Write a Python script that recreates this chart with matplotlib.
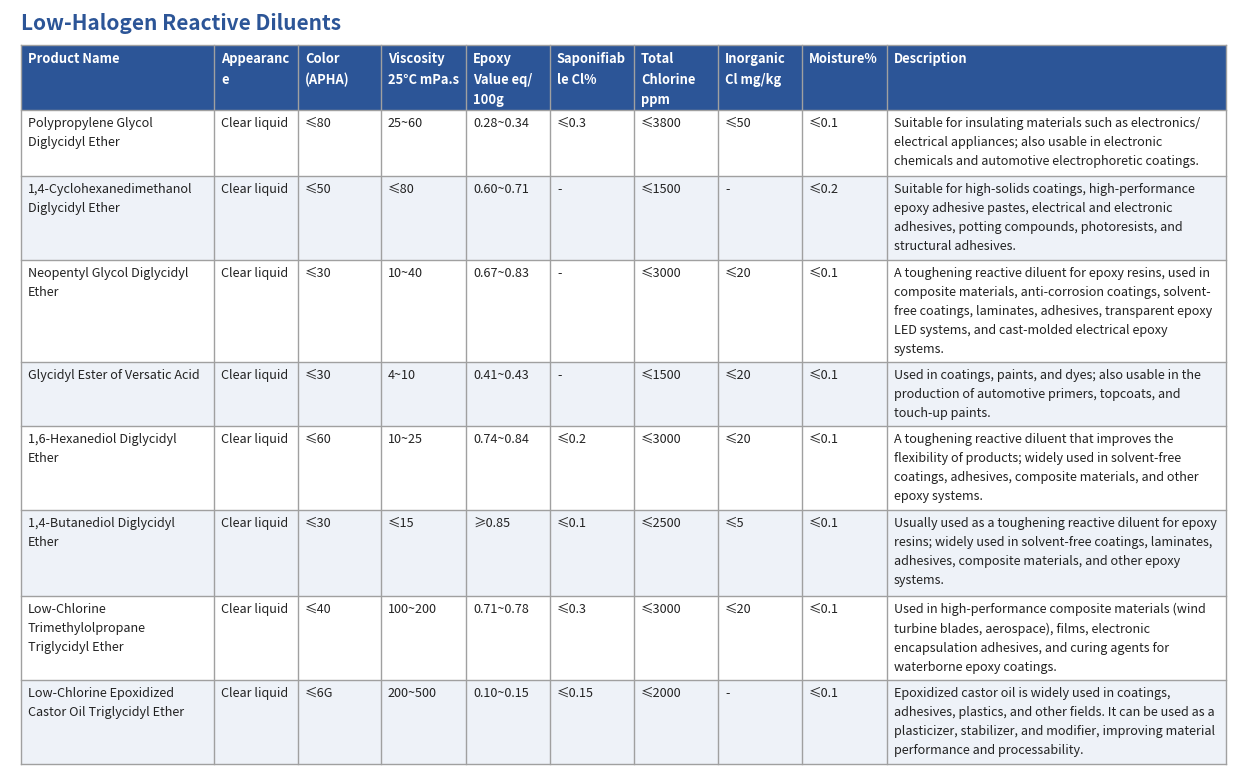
import matplotlib.pyplot as plt
from matplotlib.patches import Rectangle

plt.rcParams['font.family'] = ['Noto Sans CJK SC', 'DejaVu Sans']

title = 'Low-Halogen Reactive Diluents'
headers = ['Product Name', 'Appearanc\ne', 'Color\n(APHA)', 'Viscosity\n25°C mPa.s',
           'Epoxy\nValue eq/\n100g', 'Saponifiab\nle Cl%', 'Total\nChlorine\nppm',
           'Inorganic\nCl mg/kg', 'Moisture%', 'Description']
names = ['Polypropylene Glycol\nDiglycidyl Ether',
         '1,4-Cyclohexanedimethanol\nDiglycidyl Ether',
         'Neopentyl Glycol Diglycidyl\nEther',
         'Glycidyl Ester of Versatic Acid',
         '1,6-Hexanediol Diglycidyl\nEther',
         '1,4-Butanediol Diglycidyl\nEther',
         'Low-Chlorine\nTrimethylolpropane\nTriglycidyl Ether',
         'Low-Chlorine Epoxidized\nCastor Oil Triglycidyl Ether']
appearance = ['Clear liquid'] * 8
color_apha = ['≤80', '≤50', '≤30', '≤30', '≤60', '≤30', '≤40', '≤6G']
viscosity = ['25~60', '≤80', '10~40', '4~10', '10~25', '≤15', '100~200', '200~500']
epoxy = ['0.28~0.34', '0.60~0.71', '0.67~0.83', '0.41~0.43', '0.74~0.84', '≥0.85', '0.71~0.78', '0.10~0.15']
sapon = ['≤0.3', '-', '-', '-', '≤0.2', '≤0.1', '≤0.3', '≤0.15']
total_cl = ['≤3800', '≤1500', '≤3000', '≤1500', '≤3000', '≤2500', '≤3000', '≤2000']
inorg_cl = ['≤50', '-', '≤20', '≤20', '≤20', '≤5', '≤20', '-']
moisture = ['≤0.1', '≤0.2', '≤0.1', '≤0.1', '≤0.1', '≤0.1', '≤0.1', '≤0.1']
descriptions = [
    'Suitable for insulating materials such as electronics/\nelectrical appliances; also usable in electronic\nchemicals and automotive electrophoretic coatings.',
    'Suitable for high-solids coatings, high-performance\nepoxy adhesive pastes, electrical and electronic\nadhesives, potting compounds, photoresists, and\nstructural adhesives.',
    'A toughening reactive diluent for epoxy resins, used in\ncomposite materials, anti-corrosion coatings, solvent-\nfree coatings, laminates, adhesives, transparent epoxy\nLED systems, and cast-molded electrical epoxy\nsystems.',
    'Used in coatings, paints, and dyes; also usable in the\nproduction of automotive primers, topcoats, and\ntouch-up paints.',
    'A toughening reactive diluent that improves the\nflexibility of products; widely used in solvent-free\ncoatings, adhesives, composite materials, and other\nepoxy systems.',
    'Usually used as a toughening reactive diluent for epoxy\nresins; widely used in solvent-free coatings, laminates,\nadhesives, composite materials, and other epoxy\nsystems.',
    'Used in high-performance composite materials (wind\nturbine blades, aerospace), films, electronic\nencapsulation adhesives, and curing agents for\nwaterborne epoxy coatings.',
    'Epoxidized castor oil is widely used in coatings,\nadhesives, plastics, and other fields. It can be used as a\nplasticizer, stabilizer, and modifier, improving material\nperformance and processability.',
]
columns = [names, appearance, color_apha, viscosity, epoxy, sapon, total_cl,
           inorg_cl, moisture, descriptions]

# table geometry in pixels
col_x = [21, 214, 298, 381, 466, 550, 634, 718, 802, 887, 1226]
row_y = [45, 110, 176, 260, 362, 426, 510, 596, 680, 764]
blue = '#2c5597'
stripe = '#eef2f8'
grid = '#a0a0a0'

fig = plt.figure(figsize=(12.41, 7.81), dpi=100)
ax = fig.add_axes([0, 0, 1, 1])
ax.set_xlim(0, 1241)
ax.set_ylim(781, 0)
ax.axis('off')

ax.text(21, 24, title, fontsize=15, fontweight='bold', color=blue, va='center', ha='left')

ax.add_patch(Rectangle((col_x[0], row_y[0]), col_x[-1] - col_x[0], row_y[1] - row_y[0],
                       color=blue, lw=0))
for i in range(len(names)):
    if i % 2 == 1:
        ax.add_patch(Rectangle((col_x[0], row_y[i + 1]), col_x[-1] - col_x[0],
                               row_y[i + 2] - row_y[i + 1], color=stripe, lw=0))

for j, h in enumerate(headers):
    ax.text(col_x[j] + 7, row_y[0] + 7, h, fontsize=9.3, fontweight='bold', color='white',
            va='top', ha='left', linespacing=1.6)

for j, col in enumerate(columns):
    for i, val in enumerate(col):
        ax.text(col_x[j] + 7, row_y[i + 1] + 7, val, fontsize=9.1, color='#222222',
                va='top', ha='left', linespacing=1.6)

for x in col_x:
    ax.plot([x, x], [row_y[0], row_y[-1]], color=grid, lw=1)
for y in row_y[1:]:
    ax.plot([col_x[0], col_x[-1]], [y, y], color=grid, lw=1)
ax.plot([col_x[0], col_x[-1]], [row_y[0], row_y[0]], color=grid, lw=1)

fig.savefig('out.png', dpi=100)
